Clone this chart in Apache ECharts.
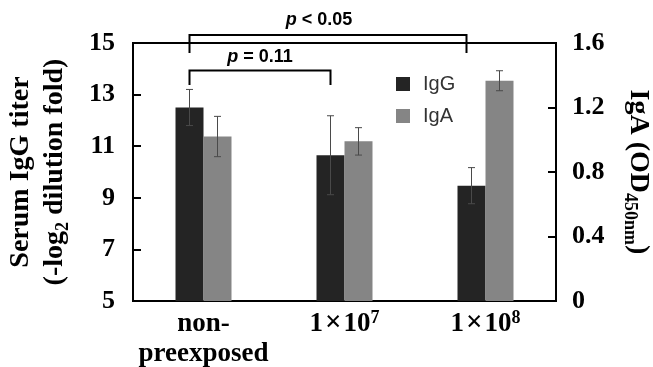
<!DOCTYPE html>
<html><head><meta charset="utf-8">
<script src="https://cdn.jsdelivr.net/npm/echarts@6/dist/echarts.min.js"></script>
<style>html,body{margin:0;padding:0;background:#fff}#c{width:653px;height:367px}</style>
</head><body><div id="c"></div>
<script>
// ---- data ----
const categories = ['non-\npreexposed', '1×10^7', '1×10^8'];
const igG = [12.5, 10.65, 9.47];
const igGErr = [0.7, 1.53, 0.7];
const igA = [1.02, 0.99, 1.366];
const igAErr = [0.125, 0.085, 0.062];
const leftTicks = { min: 5, max: 15, interval: 2 };
const rightTicks = { min: 0, max: 1.6, interval: 0.4 };
// significance brackets (between IgG bars)
const bracketFrom = [0, 0];
const bracketTo = [1, 2];
const bracketTop = [13.93, 15.31];
const bracketLeg = [13.37, 14.61];
const bracketTextY = [14.45, 15.9];
const bracketText = ['p = 0.11', 'p < 0.05'];

// ---- style ----
const BAR_W = 28;
const TEXT_DX = [0, -9];
const END_DX = [0, -5];
const SERIF = '"Liberation Serif", "Times New Roman", serif';
const SANS = '"Liberation Sans", Arial, sans-serif';
const axisLineStyle = { color: '#000', width: 2 };

function errorRender(sign) {
  return function (params, api) {
    const i = api.value(0), v = api.value(1), e = api.value(2);
    const c = api.coord([i, v]);
    const x = c[0] + sign * BAR_W / 2;
    const hi = api.coord([i, v + e])[1];
    const lo = api.coord([i, v - e])[1];
    const cap = 3.5;
    const st = { stroke: '#4a4a4a', lineWidth: 1 };
    return { type: 'group', children: [
      { type: 'line', shape: { x1: x, y1: hi, x2: x, y2: lo }, style: st },
      { type: 'line', shape: { x1: x - cap, y1: hi, x2: x + cap, y2: hi }, style: st },
      { type: 'line', shape: { x1: x - cap, y1: lo, x2: x + cap, y2: lo }, style: st }
    ]};
  };
}

function bracketRender(params, api) {
  const a = api.value(0), b = api.value(1), top = api.value(2), leg = api.value(3), ty = api.value(4);
  const idx = params.dataIndex;
  const x1 = api.coord([a, top])[0] - BAR_W / 2;
  const x2 = api.coord([b, top])[0] - BAR_W / 2 + END_DX[idx];
  const yT = api.coord([a, top])[1];
  const yL = api.coord([a, leg])[1];
  const yText = api.coord([a, ty])[1];
  const st = { stroke: '#000', lineWidth: 2, fill: null };
  const txt = bracketText[idx];
  return { type: 'group', children: [
    { type: 'polyline', shape: { points: [[x1, yL], [x1, yT], [x2, yT], [x2, yL]] }, style: st },
    { type: 'text', style: {
        text: '{i|' + txt.charAt(0) + '}{n|' + txt.slice(1) + '}',
        x: (x1 + x2) / 2 + TEXT_DX[idx], y: yText, align: 'center', verticalAlign: 'middle',
        rich: {
          i: { fontFamily: SANS, fontSize: 18, fontWeight: 'bold', fontStyle: 'italic', fill: '#000' },
          n: { fontFamily: SANS, fontSize: 18, fontWeight: 'bold', fill: '#000' }
        }
    } }
  ]};
}

const chart = echarts.init(document.getElementById('c'), null, { renderer: 'canvas' });
chart.setOption({
  animation: false,
  backgroundColor: '#fff',
  grid: { left: 133, right: 97, top: 43, bottom: 66, outerBoundsMode: 'none', containLabel: false,
          show: true, borderColor: '#000', borderWidth: 2, backgroundColor: 'transparent' },
  legend: {
    data: ['IgG', 'IgA'], orient: 'vertical', left: 396, top: 74, padding: 0,
    icon: 'rect', itemWidth: 14, itemHeight: 14, itemGap: 12,
    textStyle: { fontFamily: SANS, fontSize: 20, color: '#333', padding: [0, 0, 0, 8], lineHeight: 19 }
  },
  xAxis: {
    type: 'category', data: categories,
    axisLine: { lineStyle: axisLineStyle },
    axisTick: { inside: true, length: 7, lineStyle: axisLineStyle },
    axisLabel: {
      margin: 8, interval: 0,
      formatter: function (v) {
        return v.split('\n').map(function (l) {
          const m = l.match(/^(.*)×(.*)\^(\d+)$/);
          return m ? '{m|' + m[1] + '}{x|×}{m|' + m[2] + '}{sup|' + m[3] + '}' : '{m|' + l + '}';
        }).join('\n');
      },
      rich: {
        m: { fontFamily: SERIF, fontWeight: 'bold', fontSize: 27, color: '#000', lineHeight: 30 },
        x: { fontFamily: SERIF, fontWeight: 'bold', fontSize: 29, color: '#000', lineHeight: 30, padding: [0, 2, 0, 2] },
        sup: { fontFamily: SERIF, fontWeight: 'bold', fontSize: 18, color: '#000', verticalAlign: 'top', lineHeight: 20 }
      }
    }
  },
  yAxis: [
    {
      type: 'value', min: leftTicks.min, max: leftTicks.max, interval: leftTicks.interval, position: 'left',
      name: '{a|Serum IgG titer}\n{a|(-log}{s|2}{a| dilution fold)}',
      nameLocation: 'middle', nameRotate: 90, nameGap: 61,
      nameTextStyle: {
        rich: {
          a: { fontFamily: SERIF, fontWeight: 'bold', fontSize: 28, color: '#000', lineHeight: 34 },
          s: { fontFamily: SERIF, fontWeight: 'bold', fontSize: 18, color: '#000', verticalAlign: 'bottom', lineHeight: 18 }
        }
      },
      axisLine: { show: true, lineStyle: axisLineStyle },
      axisTick: { show: true, inside: true, length: 8, lineStyle: axisLineStyle },
      splitLine: { show: false },
      axisLabel: { fontFamily: SERIF, fontWeight: 'bold', fontSize: 26, color: '#000', margin: 18 }
    },
    {
      type: 'value', min: rightTicks.min, max: rightTicks.max, interval: rightTicks.interval, position: 'right',
      name: '{a|IgA (OD}{s|450nm}{a|)}',
      nameLocation: 'middle', nameRotate: -90, nameGap: 65,
      nameTextStyle: {
        rich: {
          a: { fontFamily: SERIF, fontWeight: 'bold', fontSize: 28, color: '#000', lineHeight: 34 },
          s: { fontFamily: SERIF, fontWeight: 'bold', fontSize: 18, color: '#000', verticalAlign: 'bottom', lineHeight: 18 }
        }
      },
      axisLine: { show: true, lineStyle: axisLineStyle },
      axisTick: { show: true, inside: true, length: 8, lineStyle: axisLineStyle },
      splitLine: { show: false },
      axisLabel: { fontFamily: SERIF, fontWeight: 'bold', fontSize: 26, color: '#000', margin: 16,
        formatter: function (v) { return String(Math.round(v * 10) / 10); } }
    }
  ],
  series: [
    { name: 'IgG', type: 'bar', yAxisIndex: 0, data: igG, barWidth: BAR_W, barGap: '0%', itemStyle: { color: '#242424' } },
    { name: 'IgA', type: 'bar', yAxisIndex: 1, data: igA, barWidth: BAR_W, barGap: '0%', itemStyle: { color: '#858585' } },
    { type: 'custom', yAxisIndex: 0, renderItem: errorRender(-1), encode: { x: 0, y: 1 },
      data: igG.map(function (v, i) { return [i, v, igGErr[i]]; }), z: 5 },
    { type: 'custom', yAxisIndex: 1, renderItem: errorRender(1), encode: { x: 0, y: 1 },
      data: igA.map(function (v, i) { return [i, v, igAErr[i]]; }), z: 5 },
    { type: 'custom', yAxisIndex: 0, renderItem: bracketRender, clip: false, encode: { x: 0, y: 2 }, silent: true,
      data: bracketFrom.map(function (f, i) { return [f, bracketTo[i], bracketTop[i], bracketLeg[i], bracketTextY[i]]; }), z: 6 }
  ]
});
</script>
</body></html>
